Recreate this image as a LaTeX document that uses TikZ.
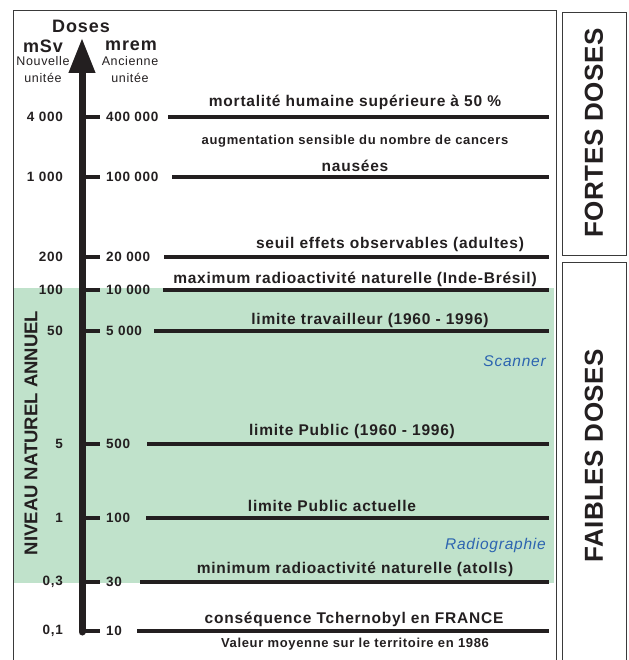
\documentclass[tikz,border=0pt]{standalone}
\usepackage{fontspec}
\setmainfont{Liberation Sans}[LetterSpace=5]
\usetikzlibrary{arrows.meta,positioning}
\definecolor{encre}{HTML}{231F20}
\definecolor{vertclair}{HTML}{C0E2CB}
\definecolor{bleu}{HTML}{2C64B0}
\definecolor{cadre}{HTML}{3A3A3A}

\begin{document}
\begin{tikzpicture}[x=1pt,y=-1pt,inner sep=0pt]
  \tikzstyle{every node}=[text=encre]
  \tikzstyle{niveau}=[line width=4.5pt,draw=encre]
  \tikzstyle{effet}=[font=\fontsize{15.5}{17}\selectfont\bfseries]
  \tikzstyle{petit}=[font=\fontsize{13}{15}\selectfont\bfseries]
  \tikzstyle{valeur}=[font=\fontsize{13.5}{15}\selectfont\bfseries]
  \tikzstyle{unite}=[font=\fontsize{18}{20}\selectfont\bfseries]
  \tikzstyle{note}=[font=\fontsize{12.5}{17}\selectfont, align=center]
  \tikzstyle{examen}=[font=\fontsize{15.5}{17}\selectfont\itshape, text=bleu, anchor=east]
  \tikzstyle{zone}=[font=\fontsize{26}{28}\selectfont\bfseries\addfontfeatures{LetterSpace=2}, rotate=90]

  \useasboundingbox (0,0) rectangle (628,660);
  \fill[vertclair] (13,288) rectangle (554,583);
  \draw[cadre] (13,660) |- (556,10) -- (556,660);
  \draw[cadre] (562,12) rectangle (626,255);
  \draw[cadre] (562,660) |- (626,262) -- (626,660);

  % axe des doses
  \coordinate (bas) at (82,632);
  \coordinate (haut) at (82,38);
  \draw[line width=7pt, draw=encre, line cap=round,
        -{Triangle[width=25pt,length=35pt]}] (bas) -- (haut);

  \node[unite] (doses) at (81,26) {Doses};
  \node[unite] (msv) at (43,46) {mSv};
  \node[unite] (mrem) at (131,46) {mrem};
  \node[note] (nouvelle) at (43,70) {Nouvelle\\unitée};
  \node[note] (ancienne) at (130,70) {Ancienne\\unitée};

  \foreach \i/\y/\msv/\mrem/\xd/\txt/\tx/\ty in {
      1/117/{4 000}/{400 000}/168/{mortalité humaine supérieure à 50 \%}/355/102,
      2/177/{1 000}/{100 000}/172/{nausées}/355/166,
      3/257/{200}/{20 000}/164/{seuil effets observables (adultes)}/390/244,
      4/290/{100}/{10 000}/163/{maximum radioactivité naturelle (Inde-Brésil)}/355/279,
      5/331/{50}/{5 000}/154/{limite travailleur (1960 - 1996)}/370/320,
      6/444/{5}/{500}/147/{limite Public (1960 - 1996)}/352/431,
      7/518/{1}/{100}/146/{limite Public actuelle}/332/506,
      8/582/{0,3}/{30}/140/{minimum radioactivité naturelle (atolls)}/355/569,
      9/631/{0,1}/{10}/137/{conséquence Tchernobyl en FRANCE}/354/619}{
    \node[valeur, anchor=east] (s\i) at (63,\y) {\msv};
    \node[valeur, anchor=west] (r\i) at (106,\y) {\mrem};
    \coordinate (a\i) at (82,\y);
    \coordinate (g\i) at (100,\y);
    \coordinate (d\i) at (\xd,\y);
    \coordinate (f\i) at (549,\y);
    \draw[niveau] (a\i) -- (g\i);
    \draw[niveau] (d\i) -- (f\i);
    \node[effet] (e\i) at (\tx,\ty) {\txt};
  }

  \node[petit] (cancers) at (355,141) {augmentation sensible du nombre de cancers};
  \node[petit] (moyenne) at (355,644) {Valeur moyenne sur le territoire en 1986};
  \node[examen] (scanner) at (546,361) {Scanner};
  \node[examen] (radio) at (546,545) {Radiographie};

  \node[font=\fontsize{18.5}{21}\selectfont\bfseries\addfontfeatures{LetterSpace=0},
        rotate=90] (naturel) at (31,433) {NIVEAU NATUREL ANNUEL};
  \node[zone] (fortes) at (594,133) {FORTES DOSES};
  \node[zone] (faibles) at (594,456) {FAIBLES DOSES};
\end{tikzpicture}
\end{document}
